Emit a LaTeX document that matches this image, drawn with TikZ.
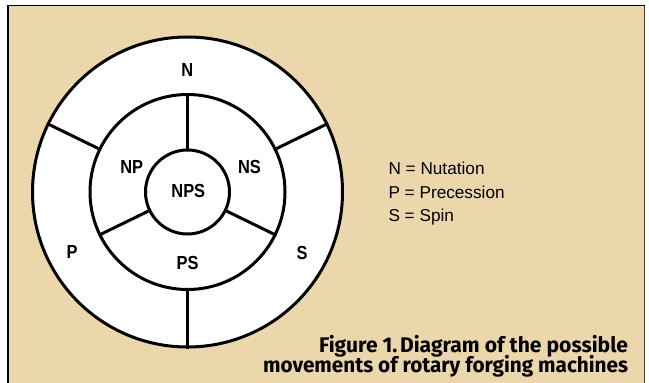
\documentclass[tikz,border=0pt]{standalone}
\usepackage{fontspec}
\usepackage{graphicx}
\setmainfont{Liberation Sans}
\newfontfamily\lblfont[FakeStretch=0.87]{Liberation Sans}
\newfontfamily\capfont{Fira Sans}
\definecolor{tanbg}{RGB}{236,215,172}
\newsavebox\fitbox
\newdimen\fitwd
\newcommand\fitto[2]{\sbox\fitbox{#2}\fitwd=\wd\fitbox\pgfmathsetmacro\fitfac{#1/\the\fitwd}\scalebox{\fitfac}[1]{\usebox\fitbox}}
\begin{document}
\begin{tikzpicture}[x=1pt,y=-1pt,
  ring/.style={circle,draw=black,line width=3pt,fill=white,inner sep=0pt},
  divider/.style={line width=3pt,draw=black},
  lbl/.style={font=\lblfont\bfseries\fontsize{18.9}{20}\selectfont,inner sep=0pt,anchor=center},
  legend/.style={font=\fontsize{17.2}{20}\selectfont,inner sep=0pt,anchor=base west},
  caption/.style={font=\capfont\bfseries\fontsize{21.2}{24}\selectfont,inner sep=0pt,anchor=base east}]
\useasboundingbox (0,0) rectangle (649,383);
\fill[white] (0,0) rectangle (649,383);
\fill[tanbg] (8,5.5) rectangle (644.5,384);
\draw[line width=1.3pt,black] (8,384) -- (8,5.5) -- (644.5,5.5);
\draw[line width=1.3pt,black!75] (644.5,5.5) -- (644.5,384);
\coordinate (c) at (187.5,192);
\node[ring,minimum size=310pt] (outer) at (c) {};
\node[ring,minimum size=195pt] (mid) at (c) {};
\node[ring,minimum size=84pt] (inner) at (c) {};
\draw[divider] (inner.90) -- (mid.90);
\draw[divider] (inner.206) -- (mid.206);
\draw[divider] (inner.-26) -- (mid.-26);
\draw[divider] (mid.26) -- (outer.26);
\draw[divider] (mid.154) -- (outer.154);
\draw[divider] (mid.270) -- (outer.270);
\node[lbl] (lN) at (187.3,69.5) {N};
\node[lbl] (lNP) at (131.7,166.7) {NP};
\node[lbl] (lNS) at (249.5,166.7) {NS};
\node[lbl] (lNPS) at (188.3,191.3) {NPS};
\node[lbl] (lPS) at (187.5,263.3) {PS};
\node[lbl] (lP) at (72.2,252.2) {P};
\node[lbl] (lS) at (302,252.5) {S};
\node[legend] (k1) at (388.3,174) {N = Nutation};
\node[legend] (k2) at (388.3,198) {P = Precession};
\node[legend] (k3) at (388.3,221.7) {S = Spin};
\node[caption] (c1) at (628.3,352.5) {\fitto{309}{Figure 1.\hspace{0.12em}Diagram of the possible}};
\node[caption] (c2) at (628.3,372.7) {\fitto{365}{movements of rotary forging machines}};
\end{tikzpicture}
\end{document}
